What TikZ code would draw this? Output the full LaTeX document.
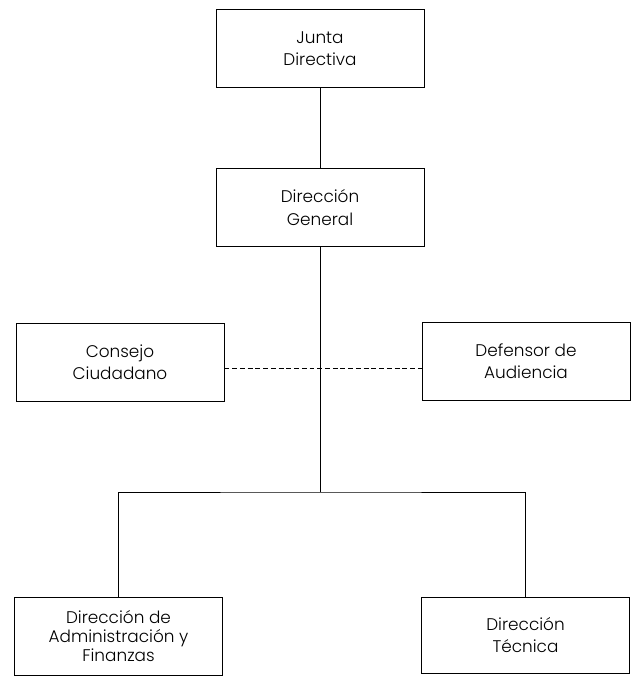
\documentclass[tikz,border=0pt]{standalone}
\usepackage{fontspec}
\setmainfont{Poppins Light}
\usetikzlibrary{shapes,arrows}
\tikzset{%
	block/.style    = {draw, line width = 0.65pt, rectangle, minimum width = 5.2cm,
		minimum height = 1.95cm, align = center, font = \fontsize{12}{16}\selectfont},
	link/.style     = {line width = 0.65pt}, % Conexion
	dashlink/.style = {line width = 0.7pt, dash pattern = on 3.5pt off 2pt}, % Asesoria
	input/.style    = {coordinate} % Punto de reparto
}
\begin{document}
\begin{tikzpicture}[x=0.025cm, y=-0.025cm]
                \useasboundingbox (0,0) rectangle (632,679);
                \node[block] (junta)    at (320,48.5)  {Junta\\Directiva} ;
                \node[block] (general)  at (320,207.5) {Dirección\\General} ;
                \node[block] (consejo)  at (120,362)   {Consejo\\Ciudadano} ;
                \node[block] (defensor) at (526,361)   {Defensor de\\Audiencia} ;
                \node[block, font = \fontsize{12}{13.5}\selectfont] (admin) at (118.5,636.5) {Dirección de\\Administración y\\Finanzas} ;
                \node[block, minimum height = 1.9cm] (tecnica)  at (525.5,635) {Dirección\\Técnica} ;
                \node[input] (bus) at (320,492) {} ;

                \draw[link] (junta)   -- (general);
                \draw[link] (general) -- (bus);
                \draw[link] (admin.north) |- (bus) -| (tecnica.north);
                \draw[dashlink] ([yshift=-0.15cm]consejo.east) -- ([yshift=-0.15cm]consejo.east -| defensor.west);
            \end{tikzpicture}
\end{document}
